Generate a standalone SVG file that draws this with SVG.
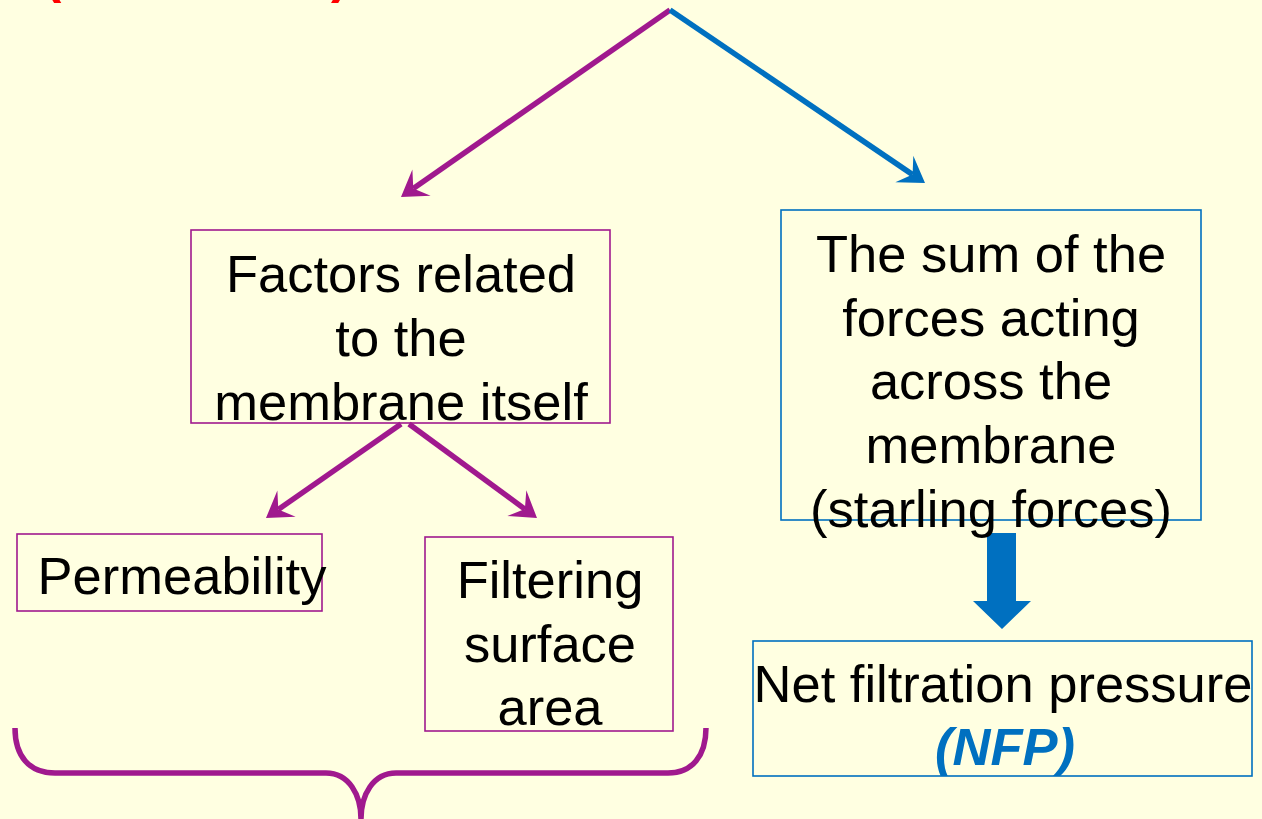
<svg xmlns="http://www.w3.org/2000/svg" width="1262" height="819" viewBox="0 0 1262 819">
  <defs>
    <style>
      .t { font-family: "Liberation Sans", Arial, sans-serif; font-size: 52.5px; fill: #000; text-anchor: middle; }
      .t.nfp { fill: #0070C0; font-weight: bold; font-style: italic; }
      .box-p { fill: none; stroke: #A0198E; stroke-width: 1.6; }
      .box-b { fill: none; stroke: #0070C0; stroke-width: 1.6; }
      .ln-p { fill: none; stroke: #A0198E; stroke-width: 5.5; }
      .ln-b { fill: none; stroke: #0070C0; stroke-width: 5.5; }
    </style>
    <marker id="head-p" viewBox="-12 -18 30 36" markerWidth="30" markerHeight="36" refX="0" refY="0" orient="auto" markerUnits="userSpaceOnUse">
      <path d="M15,0 L-10,-16 L0,0 L-10,16 z" fill="#A0198E"/>
    </marker>
    <marker id="head-b" viewBox="-12 -18 30 36" markerWidth="30" markerHeight="36" refX="0" refY="0" orient="auto" markerUnits="userSpaceOnUse">
      <path d="M15,0 L-10,-16 L0,0 L-10,16 z" fill="#0070C0"/>
    </marker>
  </defs>

  <rect width="1262" height="819" fill="#FFFFE1"/>

  <!-- heading brackets running off the top edge -->
  <g id="heading" font-family="Liberation Sans, Arial, sans-serif" font-size="52" font-weight="bold" fill="#FF0000">
    <text x="44" y="-8">(</text>
    <text x="331" y="-8">)</text>
  </g>

  <!-- connectors -->
  <g id="connectors">
    <line class="ln-p" x1="670" y1="10" x2="413.3" y2="188.4" marker-end="url(#head-p)"/>
    <line class="ln-b" x1="670" y1="10" x2="912.6" y2="174.6" marker-end="url(#head-b)"/>
    <line class="ln-p" x1="401" y1="424" x2="278.3" y2="509.4" marker-end="url(#head-p)"/>
    <line class="ln-p" x1="409" y1="424" x2="524.9" y2="509.1" marker-end="url(#head-p)"/>
    <polygon points="987,533 1016,533 1016,601 1031,601 1002,629 973,601 987,601" fill="#0070C0"/>
    <path class="ln-p" d="M15,728 C15,756 29,773 55,773 L326,773 C349,773 361,795 361,819 M361,819 C361,795 373,773 396,773 L668,773 C692,773 706,756 706,728"/>
  </g>

  <g id="membrane-factors">
    <rect class="box-p" x="191" y="230" width="419" height="193"/>
    <text class="t" x="401" y="292">Factors related</text>
    <text class="t" x="401" y="356">to the</text>
    <text class="t" x="401" y="420">membrane itself</text>
  </g>

  <g id="starling-forces">
    <rect class="box-b" x="781" y="210" width="420" height="310"/>
    <text class="t" x="991" y="272">The sum of the</text>
    <text class="t" x="991" y="336">forces acting</text>
    <text class="t" x="991" y="399">across the</text>
    <text class="t" x="991" y="463">membrane</text>
    <text class="t" x="991" y="527">(starling forces)</text>
  </g>

  <g id="permeability">
    <rect class="box-p" x="17" y="534" width="305" height="77"/>
    <text class="t" x="182" y="594">Permeability</text>
  </g>

  <g id="surface-area">
    <rect class="box-p" x="425" y="537" width="248" height="194"/>
    <text class="t" x="550" y="598">Filtering</text>
    <text class="t" x="550" y="662">surface</text>
    <text class="t" x="550" y="725">area</text>
  </g>

  <g id="nfp">
    <rect class="box-b" x="753" y="641" width="499" height="135"/>
    <text class="t" x="1003" y="702">Net filtration pressure</text>
    <text class="t nfp" x="1005" y="765">(NFP)</text>
  </g>
</svg>
